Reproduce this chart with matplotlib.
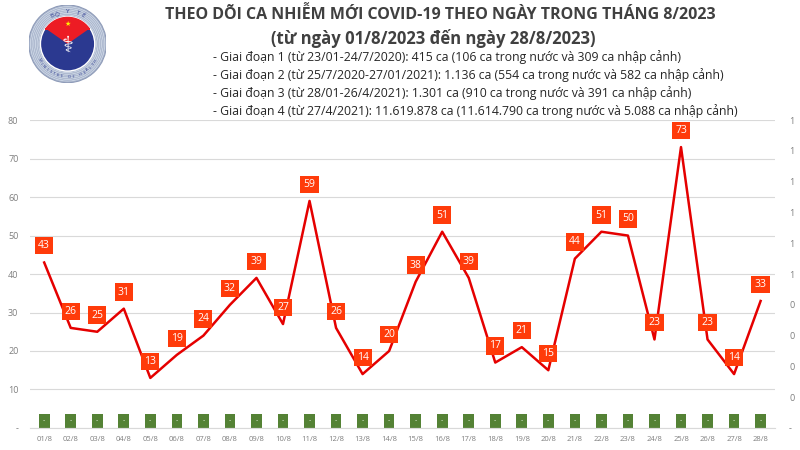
import numpy as np
import matplotlib
matplotlib.use("Agg")
import matplotlib.pyplot as plt
from matplotlib.patches import Circle, Wedge, Rectangle

plt.rcParams['font.family'] = ['Open Sans', 'DejaVu Sans']

# data
days = ["%02d/8" % d for d in range(1, 29)]
cases = [43, 26, 25, 31, 13, 19, 24, 32, 39, 27, 59, 26, 14, 20,
         38, 51, 39, 17, 21, 15, 44, 51, 50, 23, 73, 23, 14, 33]
deaths = [0.045] * 28   # green bars on the secondary axis, labelled "-"

title1 = "THEO DÕI CA NHIỄM MỚI COVID-19 THEO NGÀY TRONG THÁNG 8/2023"
title2 = "(từ ngày 01/8/2023 đến ngày 28/8/2023)"
notes = [
    "- Giai đoạn 1 (từ 23/01-24/7/2020): 415 ca (106 ca trong nước và 309 ca nhập cảnh)",
    "- Giai đoạn 2 (từ 25/7/2020-27/01/2021): 1.136 ca (554 ca trong nước và 582 ca nhập cảnh)",
    "- Giai đoạn 3 (từ 28/01-26/4/2021): 1.301 ca (910 ca trong nước và 391 ca nhập cảnh)",
    "- Giai đoạn 4 (từ 27/4/2021): 11.619.878 ca (11.614.790 ca trong nước và 5.088 ca nhập cảnh)",
]

RED = "#E50000"
LABEL = "#FF3B0A"
GREEN = "#548235"
GRAY = "#7F7F7F"

fig = plt.figure(figsize=(8, 4.5), dpi=100)
ax = fig.add_axes([0.037, 0.049, 0.932, 0.684])
ax2 = ax.twinx()

x = np.arange(len(days))

# bars on secondary axis
ax2.bar(x, deaths, width=0.4, color=GREEN, zorder=1)
for i, v in enumerate(deaths):
    ax2.text(i, v / 2, "-", ha="center", va="center", color="#E2EFDA",
             fontsize=5, zorder=2)
ax2.set_ylim(0, 1)
ax2.set_yticks(np.linspace(0, 1, 11))
ax2.set_yticklabels(["-"] + ["%d" % round(v + 0.001) for v in np.linspace(0.1, 1, 10)])

# line on primary axis (drawn above ax2)
ax.set_zorder(ax2.get_zorder() + 1)
ax.patch.set_visible(False)
ax.plot(x, cases, color=RED, lw=1.8, zorder=3)
for i, v in enumerate(cases):
    ax.annotate(str(v), (i, v), xytext=(0, 12), textcoords="offset points",
                ha="center", va="center", color="white", fontsize=7.5, zorder=4,
                bbox=dict(boxstyle="square,pad=0.3", fc=LABEL, ec="none"))

ax.set_ylim(0, 80)
ax.set_yticks(range(0, 81, 10))
ax.set_yticklabels(["-"] + [str(v) for v in range(10, 81, 10)])
ax.set_xlim(-0.55, len(days) - 0.45)
ax.set_xticks(x)
ax.set_xticklabels(days)
ax.grid(axis="y", color="#D9D9D9", lw=0.8)
ax.set_axisbelow(True)

for a in (ax, ax2):
    for s in a.spines.values():
        s.set_visible(False)
    a.tick_params(length=0, labelsize=6.5, labelcolor=GRAY)
ax.spines["bottom"].set_visible(True)
ax.spines["bottom"].set_color("#D9D9D9")
ax.tick_params(axis="x", labelsize=5.5, pad=6)
ax.tick_params(axis="y", pad=8)
ax2.tick_params(axis="y", pad=10)

# titles
fig.text(0.55, 0.968, title1, ha="center", va="center", fontsize=11.5,
         fontweight="bold", color="#404040")
fig.text(0.541, 0.915, title2, ha="center", va="center", fontsize=12,
         fontweight="bold", color="#404040")
for k, line in enumerate(notes):
    fig.text(0.266, 0.873 - k * 0.04, line, ha="left", va="center",
             fontsize=8.8, color="#262626")

# logo
lg = fig.add_axes([0.036, 0.815, 0.097, 0.175])
lg.set_xlim(-1, 1)
lg.set_ylim(-1, 1)
lg.set_aspect("equal")
lg.axis("off")
lg.add_patch(Circle((0, 0), 1.0, fc="#C9D3E3", ec="#8E9BB8", lw=0.8))
for r in np.linspace(0.72, 0.98, 7):
    lg.add_patch(Circle((0, 0), r, fc="none", ec="#8E9BB8", lw=0.3))
lg.add_patch(Circle((0, 0), 0.7, fc="#2B3990", ec="white", lw=1))
lg.add_patch(Wedge((0, 0), 0.7, 35, 145, fc="#ED1C24"))
lg.add_patch(Rectangle((-0.575, 0.35), 1.15, 0.05, fc="#ED1C24"))
lg.text(0, 0.5, "★", ha="center", va="center", color="#FFF200", fontsize=5)
lg.text(0, -0.05, "⚕", ha="center", va="center", color="white", fontsize=16,
        family=["DejaVu Sans"])
top = "BỘ Y TẾ"
for j, ch in enumerate(top):
    ang = np.deg2rad(118 - j * 9.5)
    lg.text(0.83 * np.cos(ang), 0.83 * np.sin(ang), ch, ha="center", va="center",
            rotation=np.rad2deg(ang) - 90, fontsize=4.5, color="#2B3990")
bottom = "MINISTRY OF HEALTH"
for j, ch in enumerate(bottom):
    ang = np.deg2rad(-150 + j * 7)
    lg.text(0.85 * np.cos(ang), 0.85 * np.sin(ang), ch, ha="center", va="center",
            rotation=np.rad2deg(ang) + 90, fontsize=3, color="#2B3990")

fig.savefig("out.png", dpi=100)
